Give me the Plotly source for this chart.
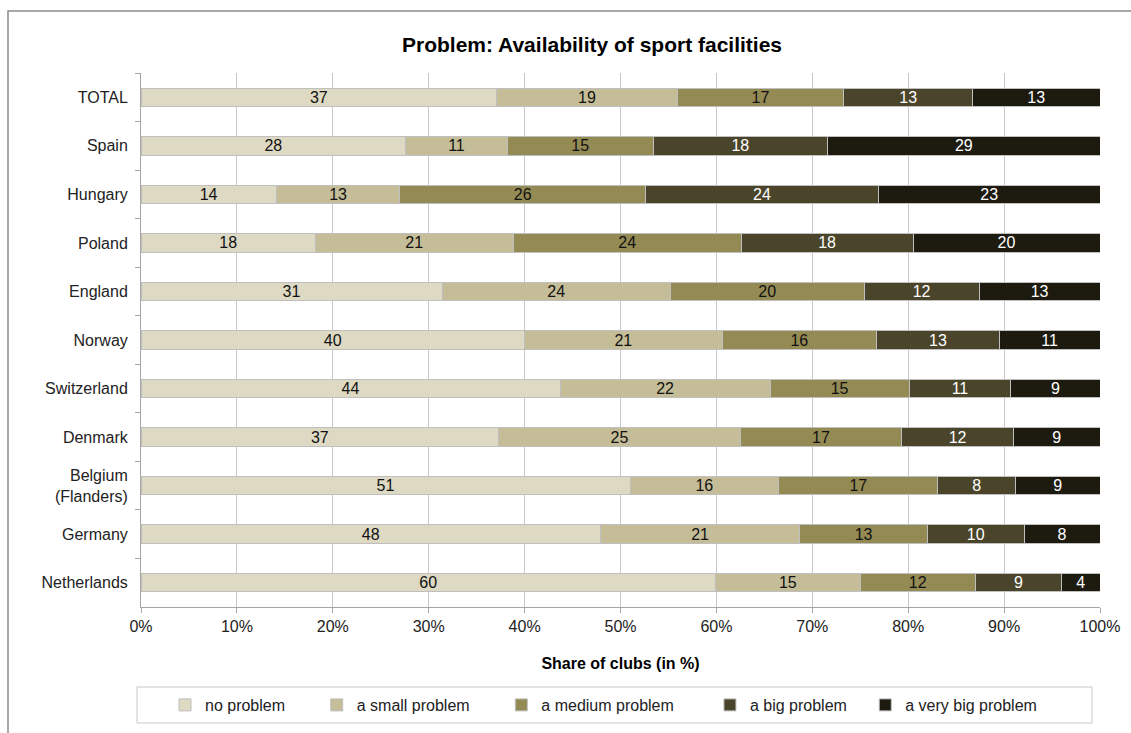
import plotly.graph_objects as go

countries = ["TOTAL", "Spain", "Hungary", "Poland", "England", "Norway",
             "Switzerland", "Denmark", "Belgium<br>(Flanders)", "Germany", "Netherlands"]

series_names = ["no problem", "a small problem", "a medium problem",
                "a big problem", "a very big problem"]

# bar lengths (share of clubs, %)
share_no_problem = [37.1, 27.6, 14.1, 18.2, 31.4, 40.0, 43.7, 37.3, 51.0, 47.9, 59.9]
share_small = [18.8, 10.6, 12.9, 20.6, 23.8, 20.6, 21.9, 25.2, 15.5, 20.8, 15.1]
share_medium = [17.4, 15.2, 25.6, 23.8, 20.2, 16.1, 14.5, 16.8, 16.6, 13.3, 12.0]
share_big = [13.4, 18.2, 24.3, 17.9, 12.0, 12.8, 10.6, 11.7, 8.1, 10.1, 9.0]
share_very_big = [13.3, 28.4, 23.1, 19.5, 12.6, 10.5, 9.3, 9.0, 8.8, 7.9, 4.0]

# data labels as printed on the bars
label_no_problem = [37, 28, 14, 18, 31, 40, 44, 37, 51, 48, 60]
label_small = [19, 11, 13, 21, 24, 21, 22, 25, 16, 21, 15]
label_medium = [17, 15, 26, 24, 20, 16, 15, 17, 17, 13, 12]
label_big = [13, 18, 24, 18, 12, 13, 11, 12, 8, 10, 9]
label_very_big = [13, 29, 23, 20, 13, 11, 9, 9, 9, 8, 4]

x_ticks = [0, 10, 20, 30, 40, 50, 60, 70, 80, 90, 100]

colors = ["#DDD9C3", "#C4BD97", "#948A54", "#4A452A", "#1D1B10"]
text_colors = ["#111111", "#111111", "#111111", "#ffffff", "#ffffff"]
# trailing no-break spaces widen legend entries to match the reference spacing
legend_pad = [6, 6, 7, 3, 0]

shares = [share_no_problem, share_small, share_medium, share_big, share_very_big]
labels = [label_no_problem, label_small, label_medium, label_big, label_very_big]

FONT = "Arial, Liberation Sans, sans-serif"

fig = go.Figure()
for name, xs, ls, col, tcol, pad in zip(series_names, shares, labels, colors, text_colors, legend_pad):
    fig.add_trace(go.Bar(
        y=countries, x=xs, orientation="h", name=name + "\u00a0" * pad,
        marker=dict(color=col, line=dict(color="#BFBFBF", width=1)),
        text=[str(v) for v in ls], textposition="inside", insidetextanchor="middle",
        textangle=0, constraintext="none",
        textfont=dict(family=FONT, size=16, color=tcol),
    ))

W, H = 1131, 733
L, R, T, B = 141, 31, 73, 126
pw, ph = W - L - R, H - T - B

def px_x(x):
    return (x - L) / pw

def px_y(y):
    return (H - B - y) / ph

fig.update_layout(
    width=W, height=H,
    barmode="stack", bargap=0.62,
    margin=dict(l=L, r=R, t=T, b=B, autoexpand=False),
    paper_bgcolor="white", plot_bgcolor="white",
    font=dict(family=FONT, size=16, color="#222222"),
    title=dict(text="<b>Problem: Availability of sport facilities</b>",
               font=dict(family=FONT, size=21, color="#000000"),
               x=592 / W, xref="container", xanchor="center",
               y=1 - 45 / H, yref="container", yanchor="middle"),
    xaxis=dict(range=[0, 100], tickvals=x_ticks, ticktext=[f"{v}%" for v in x_ticks],
               showgrid=True, gridcolor="#C8C8C8", gridwidth=1,
               showline=True, linecolor="#A6A6A6", linewidth=1,
               ticks="outside", ticklen=5, tickcolor="#A6A6A6",
               tickfont=dict(size=16, color="#222222"),
               zeroline=False, mirror=False,
               title=dict(text="<b>Share of clubs (in %)</b>",
                          font=dict(size=16, color="#000000"), standoff=23)),
    yaxis=dict(autorange="reversed", showgrid=False,
               showline=True, linecolor="#A6A6A6", linewidth=1,
               ticks="outside", ticklen=5, tickcolor="#A6A6A6",
               tickson="boundaries", ticklabelstandoff=9,
               tickfont=dict(size=16, color="#222222")),
    showlegend=True,
    legend=dict(orientation="h", x=px_x(165), xanchor="left",
                y=px_y(705), yanchor="middle",
                font=dict(size=16, color="#222222"),
                bgcolor="rgba(0,0,0,0)", borderwidth=0,
                traceorder="normal", itemwidth=30),
    shapes=[
        dict(type="rect", xref="paper", yref="paper",
             x0=px_x(137), x1=px_x(1092), y0=px_y(687), y1=px_y(723),
             line=dict(color="#C8C8C8", width=1), fillcolor="rgba(0,0,0,0)", layer="below"),
        dict(type="rect", xref="paper", yref="paper",
             x0=px_x(8), x1=px_x(1160), y0=px_y(11), y1=px_y(760),
             line=dict(color="#8C8C8C", width=1.5), fillcolor="rgba(0,0,0,0)", layer="below"),
    ],
)

fig.write_html("out.html", config={"displayModeBar": False},
               post_script="document.body.style.margin='0';document.body.style.overflow='hidden';")
